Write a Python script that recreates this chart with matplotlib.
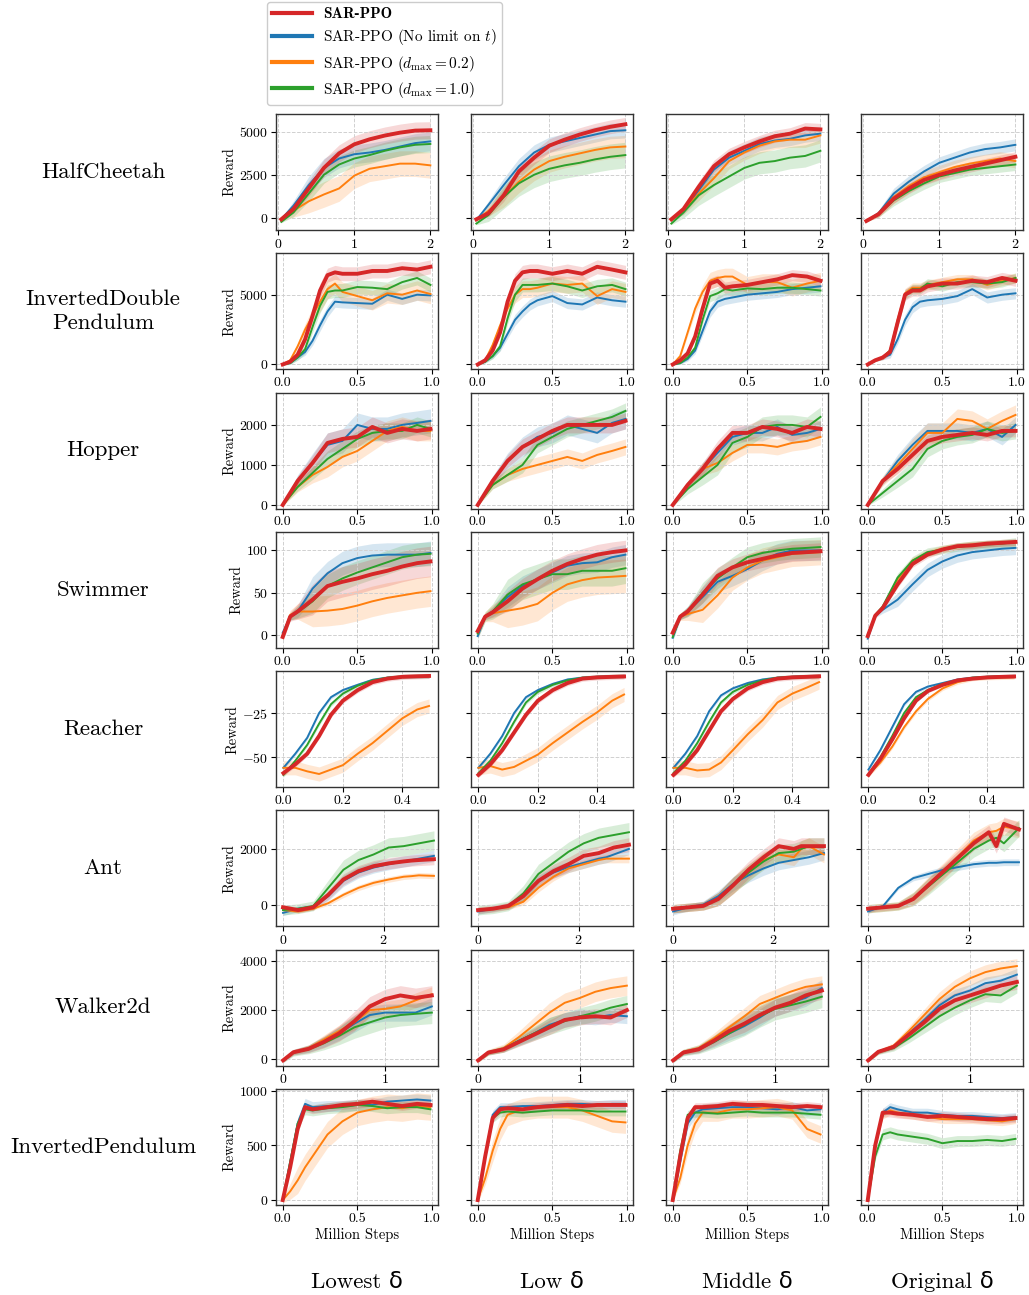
import matplotlib
matplotlib.use("Agg")
import matplotlib.pyplot as plt
import numpy as np
from matplotlib.lines import Line2D

plt.rcParams['font.family'] = ['cmr10', 'DejaVu Serif']
plt.rcParams['mathtext.fontset'] = 'cm'
plt.rcParams['axes.formatter.use_mathtext'] = True

# ---------------------------------------------------------------- labels
ROW_NAMES = ["HalfCheetah", "InvertedDouble\nPendulum", "Hopper", "Swimmer",
             "Reacher", "Ant", "Walker2d", "InvertedPendulum"]
COL_NAMES = ["Lowest δ", "Low δ", "Middle δ", "Original δ"]
SERIES_LABELS = ["SAR-PPO", r"SAR-PPO (No limit on $t$)",
                 r"SAR-PPO ($d_{\max}=0.2$)", r"SAR-PPO ($d_{\max}=1.0$)"]
COLORS = ['#d62728', '#1f77b4', '#ff7f0e', '#2ca02c']

# ---------------------------------------------------------------- HalfCheetah
HC_STEPS = [0.04, 0.2, 0.4, 0.6, 0.8, 1.0, 1.2, 1.4, 1.6, 1.8, 2.0]
HC_RAMP = [0.1, 0.5, 0.9, 1, 1, 1, 1, 1, 1, 1, 1]
HC_SAR = [[-100, 500, 1700, 2900, 3750, 4280, 4570, 4790, 4960, 5080, 5100],
          [-100, 250, 1300, 2700, 3500, 4200, 4550, 4850, 5100, 5300, 5450],
          [-100, 500, 1800, 3000, 3700, 4100, 4450, 4750, 4900, 5200, 5150],
          [-200, 200, 1100, 1700, 2200, 2500, 2750, 2950, 3150, 3350, 3550]]
HC_NOLIM = [[-100, 700, 1900, 2900, 3450, 3700, 3800, 3950, 4150, 4350, 4450],
            [-150, 750, 1900, 3000, 3800, 4250, 4450, 4650, 4850, 5050, 5100],
            [-150, 400, 1600, 2800, 3500, 3900, 4300, 4500, 4600, 4800, 4900],
            [-200, 250, 1400, 2100, 2700, 3200, 3500, 3800, 4000, 4100, 4250]]
HC_D02 = [[-150, 400, 950, 1350, 1700, 2450, 2850, 3000, 3150, 3150, 3050],
          [-150, 400, 1200, 2100, 2800, 3300, 3550, 3750, 3950, 4100, 4150],
          [-150, 400, 1400, 2300, 3300, 3800, 4200, 4450, 4550, 4550, 4800],
          [-200, 200, 1200, 1850, 2350, 2650, 2950, 3150, 3300, 3450, 3300]]
HC_D10 = [[-250, 300, 1400, 2500, 3100, 3450, 3650, 3900, 4100, 4250, 4300],
          [-350, 150, 1200, 2000, 2500, 2850, 3050, 3200, 3400, 3550, 3650],
          [-350, 300, 1300, 1900, 2400, 2900, 3200, 3300, 3500, 3600, 3900],
          [-200, 200, 1000, 1550, 2000, 2400, 2600, 2800, 2900, 3000, 3100]]
HC_SPREAD = [[500, 400, 350, 300], [550, 450, 400, 350],
             [750, 650, 450, 400], [500, 750, 650, 350]]

# ---------------------------------------------------------------- InvertedDoublePendulum
IDP_STEPS = [0, 0.05, 0.1, 0.15, 0.2, 0.25, 0.3, 0.35, 0.4, 0.5, 0.6, 0.7, 0.8, 0.9, 0.99]
IDP_RAMP = [0.1, 0.2, 0.4, 0.6, 0.8, 1, 1, 1, 1, 1, 1, 1, 1, 1, 1]
IDP_SAR = [[0, 200, 700, 1800, 3500, 5300, 6400, 6600, 6500, 6500, 6700, 6700, 6900, 6800, 7000],
           [0, 300, 1000, 2300, 4500, 6000, 6600, 6700, 6700, 6500, 6700, 6500, 7000, 6800, 6600],
           [0, 300, 800, 2000, 4000, 5800, 6000, 5500, 5600, 5700, 5900, 6100, 6400, 6300, 6000],
           [0, 300, 500, 900, 3000, 5000, 5300, 5300, 5600, 5800, 5800, 6000, 5900, 6200, 6000]]
IDP_NOLIM = [[0, 100, 500, 900, 1700, 2800, 3800, 4500, 4450, 4400, 4350, 5000, 4700, 5000, 4950],
             [0, 200, 600, 1200, 2200, 3200, 3800, 4300, 4600, 4900, 4400, 4300, 4800, 4600, 4500],
             [0, 100, 400, 1000, 2400, 3800, 4500, 4700, 4800, 5000, 5100, 5200, 5400, 5500, 5600],
             [0, 300, 500, 700, 1800, 3200, 4100, 4500, 4600, 4700, 4900, 5400, 4800, 5000, 5100]]
IDP_D02 = [[0, 300, 1300, 2500, 3500, 4500, 5400, 5800, 5200, 4900, 4600, 5100, 5000, 5300, 5050],
           [0, 300, 1400, 2800, 4000, 5000, 5400, 5400, 5500, 5800, 5700, 5800, 4900, 5400, 5200],
           [0, 600, 2300, 4000, 5200, 6000, 6200, 6300, 6300, 5700, 5900, 5900, 5500, 5800, 6000],
           [0, 300, 500, 1000, 3200, 5100, 5500, 5500, 5700, 5900, 6100, 6100, 5700, 6000, 6200]]
IDP_D10 = [[0, 100, 500, 1100, 2700, 4200, 5200, 5300, 5300, 5550, 5500, 5400, 5900, 6200, 5700],
           [0, 200, 600, 1300, 3300, 5000, 5700, 5700, 5700, 5800, 5600, 5300, 5600, 5700, 5400],
           [0, 100, 500, 1200, 3200, 4900, 5100, 5400, 5300, 5450, 5400, 5500, 5500, 5400, 5300],
           [0, 300, 500, 1000, 3000, 5000, 5400, 5400, 5800, 5600, 5900, 5900, 5800, 5900, 6200]]
IDP_SPREAD = [[500, 500, 400, 400], [400, 400, 400, 400],
              [700, 600, 600, 350], [500, 500, 400, 350]]

# ---------------------------------------------------------------- Hopper
HOP_STEPS = [0, 0.1, 0.2, 0.3, 0.4, 0.5, 0.6, 0.7, 0.8, 0.9, 0.99]
HOP_RAMP = [0.1, 0.5, 0.8, 1, 1, 1, 1, 1, 1, 1, 1]
HOP_SAR = [[0, 600, 1050, 1550, 1650, 1700, 1950, 1800, 1900, 1850, 1900],
           [0, 600, 1100, 1450, 1650, 1850, 2000, 2000, 2000, 2000, 2100],
           [0, 500, 900, 1400, 1800, 1800, 1950, 1900, 1800, 1950, 1900],
           [0, 600, 900, 1250, 1600, 1700, 1750, 1800, 1750, 1850, 1850]]
HOP_NOLIM = [[0, 600, 1050, 1500, 1600, 2000, 1900, 1900, 2000, 2050, 2100],
             [0, 600, 1100, 1450, 1700, 1800, 2000, 1900, 1800, 2050, 2150],
             [0, 500, 900, 1300, 1700, 1800, 1800, 1950, 1750, 1800, 1900],
             [0, 600, 1100, 1500, 1850, 1850, 1850, 1800, 1900, 1700, 2000]]
HOP_D02 = [[0, 450, 750, 950, 1200, 1350, 1600, 1850, 1950, 1850, 1850],
           [0, 500, 750, 900, 1000, 1100, 1200, 1100, 1250, 1350, 1450],
           [0, 500, 900, 1050, 1300, 1500, 1500, 1450, 1550, 1600, 1700],
           [0, 600, 1000, 1400, 1800, 1800, 2150, 2100, 1900, 2100, 2250]]
HOP_D10 = [[0, 450, 800, 1150, 1400, 1650, 1800, 1850, 1850, 2000, 1900],
           [0, 500, 750, 1000, 1500, 1700, 1900, 2000, 2100, 2200, 2350],
           [0, 400, 700, 1000, 1550, 1700, 1950, 2000, 2000, 1950, 2200],
           [0, 300, 600, 900, 1400, 1600, 1700, 1750, 1900, 1800, 1850]]
HOP_SPREAD = [[250, 200, 200, 150], [300, 250, 200, 200],
              [250, 200, 200, 250], [200, 200, 250, 200]]

# ---------------------------------------------------------------- Swimmer
SW_STEPS = [0, 0.05, 0.1, 0.2, 0.3, 0.4, 0.5, 0.6, 0.7, 0.8, 0.9, 0.99]
SW_RAMP = [0.3, 0.3, 0.5, 1, 1, 1, 1, 1, 1, 1, 1, 1]
SW_SAR = [[-2, 22, 28, 42, 58, 63, 67, 72, 76, 81, 85, 87],
          [5, 22, 27, 40, 55, 66, 76, 84, 90, 95, 98, 100],
          [3, 22, 28, 48, 70, 80, 86, 90, 94, 97, 98, 99],
          [-1, 23, 32, 60, 84, 95, 101, 105, 106, 108, 109, 110]]
SW_NOLIM = [[3, 22, 28, 55, 73, 85, 91, 94, 95, 95, 95, 97],
            [-1, 22, 28, 45, 58, 66, 74, 82, 85, 86, 92, 95],
            [-3, 22, 28, 45, 63, 70, 78, 88, 96, 100, 100, 100],
            [-4, 23, 30, 42, 60, 77, 87, 94, 98, 100, 102, 103]]
SW_D02 = [[-1, 24, 28, 28, 29, 31, 35, 40, 44, 47, 50, 52],
          [3, 22, 26, 29, 32, 37, 50, 60, 65, 68, 69, 70],
          [3, 22, 25, 30, 47, 68, 80, 88, 92, 96, 97, 98],
          [0, 23, 33, 66, 88, 97, 102, 105, 107, 108, 109, 109]]
SW_D10 = [[0, 22, 27, 40, 58, 67, 74, 80, 86, 92, 95, 96],
          [2, 22, 28, 48, 60, 66, 72, 72, 76, 76, 76, 79],
          [-2, 22, 28, 50, 67, 80, 92, 97, 100, 102, 103, 104],
          [0, 24, 34, 68, 88, 98, 101, 104, 106, 107, 108, 110]]
SW_SPREAD = [[18, 12, 10, 4], [14, 12, 12, 8], [18, 20, 15, 4], [14, 18, 12, 5]]

# ---------------------------------------------------------------- Reacher
RE_STEPS = [0, 0.04, 0.08, 0.12, 0.16, 0.2, 0.25, 0.3, 0.35, 0.4, 0.45, 0.49]
RE_RAMP = [1, 1, 1, 1, 1, 1, 1, 1, 1, 1, 1, 1]
RE_SAR = [[-59, -54, -48, -38, -26, -18, -12, -7.5, -5.5, -4.5, -4.2, -4],
          [-60, -54, -46, -36, -26, -18, -12, -8, -5.5, -4.8, -4.5, -4.3],
          [-60, -54, -46, -35, -24, -17, -11, -7.5, -5.5, -4.8, -4.5, -4.2],
          [-60, -51, -40, -28, -18, -12.5, -9, -6.5, -5.5, -4.8, -4.5, -4.3]]
RE_NOLIM = [[-56, -48, -39, -25, -16, -12, -9, -6.2, -5, -4.5, -4.3, -4.2],
            [-56, -48, -38, -25, -16, -12, -8.5, -6, -5, -4.5, -4.2, -4],
            [-56, -48, -38, -24, -15, -11, -8, -6, -5, -4.5, -4.2, -4],
            [-57, -46, -33, -20, -13, -10, -8, -6, -5, -4.5, -4.2, -4]]
RE_D02 = [[-56, -56, -58, -59.5, -57, -54.5, -48, -42, -35, -28, -23, -21],
          [-56, -55, -57, -55.5, -52, -48.5, -42, -36, -30, -24.5, -18, -14.5],
          [-56, -56, -57.5, -57, -53, -46, -37, -29, -19, -14, -10.5, -7.5],
          [-60, -53, -44, -33, -24, -17, -11, -7.5, -5.5, -5, -4.8, -4.7]]
RE_D10 = [[-60, -52, -43, -31, -20, -14, -9.5, -6.5, -5, -4.3, -4, -4],
          [-59, -52, -42, -30, -19, -13, -9, -6.5, -5, -4.5, -4.2, -4],
          [-59, -52, -42, -30, -19, -13, -9, -6.5, -5, -4.5, -4.2, -4],
          [-60, -50, -38, -25, -16, -12, -8.5, -6.5, -5, -4.5, -4.2, -4]]
RE_SPREAD = [[1.5, 1.5, 1.5, 1], [1, 1, 1, 1], [4, 4, 4, 1.2], [1.2, 1.2, 1.2, 1]]

# ---------------------------------------------------------------- Ant
ANT_STEPS = [0, 0.3, 0.6, 0.9, 1.2, 1.5, 1.8, 2.1, 2.4, 2.55, 2.7, 3.0]
ANT_RAMP = [0.5, 0.5, 0.5, 0.8, 1, 1, 1, 1, 1, 1, 1, 1]
ANT_SAR = [[-100, -200, -100, 350, 900, 1200, 1380, 1480, 1550, 1580, 1600, 1630],
           [-200, -150, -50, 300, 850, 1200, 1450, 1750, 1850, 1950, 2050, 2150],
           [-150, -100, -50, 200, 700, 1250, 1700, 2100, 2000, 2100, 2100, 2100],
           [-150, -100, -50, 200, 700, 1200, 1700, 2200, 2600, 2100, 2900, 2700]]
ANT_NOLIM = [[-300, -150, -80, 300, 850, 1150, 1330, 1450, 1550, 1600, 1650, 1750],
             [-250, -150, -50, 300, 850, 1150, 1350, 1500, 1650, 1700, 1800, 2000],
             [-250, -100, 0, 300, 750, 1050, 1300, 1500, 1600, 1650, 1700, 1850],
             [-250, -50, 600, 950, 1100, 1250, 1350, 1450, 1500, 1500, 1520, 1520]]
ANT_D02 = [[-200, -250, -150, 50, 350, 600, 780, 900, 1000, 1020, 1050, 1030],
           [-200, -150, -100, 100, 600, 1000, 1300, 1450, 1600, 1650, 1650, 1650],
           [-150, -100, -50, 200, 700, 1150, 1600, 1800, 1700, 2000, 2100, 1800],
           [-150, -100, -50, 200, 700, 1200, 1750, 2300, 2600, 2650, 2800, 2700]]
ANT_D10 = [[-200, -150, -50, 600, 1250, 1600, 1800, 2050, 2100, 2150, 2200, 2300],
           [-200, -150, -50, 400, 1100, 1500, 1900, 2200, 2400, 2450, 2500, 2600],
           [-150, -100, -50, 200, 700, 1150, 1550, 1850, 1900, 2000, 2100, 2100],
           [-150, -100, -50, 200, 650, 1100, 1550, 2000, 2300, 2400, 2200, 2750]]
ANT_SPREAD = [[200, 250, 300, 250], [200, 200, 250, 120],
              [100, 150, 300, 300], [350, 350, 300, 300]]

# ---------------------------------------------------------------- Walker2d
WK_STEPS = [0, 0.1, 0.25, 0.4, 0.55, 0.7, 0.85, 1.0, 1.15, 1.3, 1.46]
WK_RAMP = [0.2, 0.3, 0.4, 0.6, 0.8, 1, 1, 1, 1, 1, 1]
WK_SAR = [[-50, 280, 420, 700, 1050, 1550, 2150, 2450, 2600, 2500, 2600],
          [-50, 270, 400, 700, 1000, 1300, 1600, 1700, 1750, 1700, 2000],
          [-50, 270, 400, 750, 1150, 1450, 1800, 2100, 2300, 2600, 2800],
          [-50, 300, 500, 1000, 1500, 2050, 2400, 2600, 2800, 3000, 3150]]
WK_NOLIM = [[-50, 280, 420, 700, 1050, 1450, 1800, 1900, 1900, 1900, 2150],
            [-50, 270, 420, 750, 1050, 1400, 1600, 1750, 1700, 1800, 1750],
            [-50, 270, 400, 700, 1050, 1350, 1700, 2100, 2300, 2500, 2900],
            [-50, 300, 500, 1050, 1600, 2200, 2600, 2800, 3100, 3200, 3450]]
WK_D02 = [[-50, 280, 450, 800, 1150, 1500, 2000, 2050, 2150, 2400, 2650],
          [-50, 280, 450, 900, 1400, 1900, 2300, 2500, 2750, 2900, 3000],
          [-50, 300, 450, 850, 1300, 1750, 2250, 2500, 2750, 2950, 3050],
          [-50, 300, 550, 1150, 1800, 2450, 2950, 3300, 3550, 3700, 3800]]
WK_D10 = [[-50, 260, 400, 650, 950, 1300, 1500, 1700, 1800, 1850, 1900],
          [-50, 270, 420, 750, 1050, 1350, 1550, 1750, 1900, 2100, 2250],
          [-50, 270, 400, 700, 1050, 1400, 1750, 2050, 2200, 2350, 2550],
          [-50, 280, 450, 850, 1300, 1750, 2100, 2400, 2650, 2600, 3000]]
WK_SPREAD = [[400, 300, 350, 300], [350, 300, 350, 250],
             [300, 400, 350, 300], [450, 350, 450, 300]]

# ---------------------------------------------------------------- InvertedPendulum
IP_STEPS = [0, 0.05, 0.1, 0.15, 0.2, 0.3, 0.4, 0.5, 0.6, 0.7, 0.8, 0.9, 0.99]
IP_RAMP = [0.2, 0.6, 1, 1, 1, 1, 1, 1, 1, 1, 1, 1, 1]
IP_SAR = [[0, 300, 650, 850, 830, 850, 870, 880, 900, 880, 860, 880, 870],
          [0, 400, 750, 830, 840, 830, 850, 860, 870, 860, 870, 870, 870],
          [0, 400, 750, 850, 850, 860, 880, 870, 870, 860, 850, 860, 850],
          [0, 500, 800, 800, 790, 780, 760, 770, 760, 750, 740, 740, 750]]
IP_NOLIM = [[0, 350, 700, 880, 850, 860, 860, 870, 870, 900, 910, 920, 910],
            [0, 400, 780, 850, 850, 860, 860, 870, 880, 880, 870, 880, 880],
            [0, 350, 700, 800, 830, 840, 850, 850, 840, 830, 850, 820, 830],
            [0, 500, 800, 850, 830, 800, 800, 780, 770, 770, 760, 750, 760]]
IP_D02 = [[0, 80, 180, 300, 400, 600, 720, 800, 830, 850, 840, 860, 850],
          [0, 200, 450, 650, 780, 830, 850, 850, 850, 820, 770, 720, 710],
          [0, 200, 500, 700, 800, 800, 830, 830, 840, 850, 820, 650, 600],
          [0, 500, 780, 820, 800, 780, 760, 740, 740, 740, 730, 720, 740]]
IP_D10 = [[0, 350, 700, 830, 820, 840, 850, 870, 860, 840, 850, 850, 830],
          [0, 400, 750, 800, 810, 800, 810, 820, 820, 820, 810, 810, 810],
          [0, 450, 780, 800, 800, 790, 800, 810, 800, 800, 800, 790, 780],
          [0, 400, 600, 620, 600, 580, 560, 520, 540, 540, 550, 540, 560]]
IP_SPREAD = [[40, 40, 40, 40], [50, 40, 50, 40], [120, 100, 80, 40], [50, 40, 40, 50]]

# ---------------------------------------------------------------- axes setup per row
ROWS = [
    (HC_STEPS, HC_RAMP, [HC_SAR, HC_NOLIM, HC_D02, HC_D10], HC_SPREAD,
     [0, 2500, 5000], [0, 1, 2], (-0.03, 2.1), (-740, 6050)),
    (IDP_STEPS, IDP_RAMP, [IDP_SAR, IDP_NOLIM, IDP_D02, IDP_D10], IDP_SPREAD,
     [0, 5000], [0.0, 0.5, 1.0], (-0.045, 1.04), (-360, 7970)),
    (HOP_STEPS, HOP_RAMP, [HOP_SAR, HOP_NOLIM, HOP_D02, HOP_D10], HOP_SPREAD,
     [0, 1000, 2000], [0.0, 0.5, 1.0], (-0.045, 1.04), (-95, 2810)),
    (SW_STEPS, SW_RAMP, [SW_SAR, SW_NOLIM, SW_D02, SW_D10], SW_SPREAD,
     [0, 50, 100], [0.0, 0.5, 1.0], (-0.045, 1.04), (-15, 122)),
    (RE_STEPS, RE_RAMP, [RE_SAR, RE_NOLIM, RE_D02, RE_D10], RE_SPREAD,
     [-50, -25], [0.0, 0.2, 0.4], (-0.025, 0.52), (-67, -1.2)),
    (ANT_STEPS, ANT_RAMP, [ANT_SAR, ANT_NOLIM, ANT_D02, ANT_D10], ANT_SPREAD,
     [0, 2000], [0, 2], (-0.14, 3.08), (-790, 3390)),
    (WK_STEPS, WK_RAMP, [WK_SAR, WK_NOLIM, WK_D02, WK_D10], WK_SPREAD,
     [0, 2000, 4000], [0, 1], (-0.07, 1.52), (-270, 4475)),
    (IP_STEPS, IP_RAMP, [IP_SAR, IP_NOLIM, IP_D02, IP_D10], IP_SPREAD,
     [0, 500, 1000], [0.0, 0.5, 1.0], (-0.045, 1.04), (-45, 1018)),
]

W, H = 1029, 1295
fig, axes = plt.subplots(8, 4, figsize=(W / 100, H / 100), dpi=100, sharey='row')
fig.subplots_adjust(left=276 / W, right=1023 / W, top=1 - 114 / H,
                    bottom=1 - 1205 / H, wspace=0.204, hspace=0.198)

LINE_W = [2.8, 1.4, 1.4, 1.4]
DRAW_ORDER = [1, 2, 3, 0]

for r, (steps, ramp, series, spread, yt, xt, xl, yl) in enumerate(ROWS):
    x = np.array(steps)
    rp = np.array(ramp)
    for c in range(4):
        ax = axes[r, c]
        for k in DRAW_ORDER:
            m = np.array(series[k][c], dtype=float)
            s = spread[k][c] * rp
            ax.fill_between(x, m - s, m + s, color=COLORS[k], alpha=0.18, lw=0)
        for k in DRAW_ORDER:
            ax.plot(x, series[k][c], color=COLORS[k], lw=LINE_W[k])
        ax.set_xlim(*xl)
        ax.set_ylim(*yl)
        ax.set_xticks(xt)
        ax.set_yticks(yt)
        if isinstance(xt[1], float):
            ax.set_xticklabels([f"{v:.1f}" for v in xt])
        ax.grid(True, ls='--', color='#d0d0d0', lw=0.7)
        ax.tick_params(labelsize=10, length=3.5, width=0.8, pad=2)
        for sp in ax.spines.values():
            sp.set_color('#333333')
            sp.set_linewidth(1.0)
        if c == 0:
            ax.set_ylabel("Reward", fontsize=10.5, labelpad=2)
        if r == 7:
            ax.set_xlabel("Million Steps", fontsize=10.5, labelpad=2)
    pos = axes[r, 0].get_position()
    fig.text(103 / W, (pos.y0 + pos.y1) / 2, ROW_NAMES[r], ha='center',
             va='center', fontsize=16.5, linespacing=1.3)

for c in range(4):
    pos = axes[7, c].get_position()
    fig.text((pos.x0 + pos.x1) / 2, 1 - 1282 / H, COL_NAMES[c], ha='center',
             va='center', fontsize=16.5, family=['cmr10', 'DejaVu Sans'])

handles = [Line2D([], [], color=COLORS[k], lw=3) for k in range(4)]
leg = fig.legend(handles, SERIES_LABELS, loc='upper left',
                 bbox_to_anchor=(267 / W, 1 - 2 / H), borderaxespad=0.0,
                 fontsize=11, handlelength=2.6, handletextpad=0.7,
                 labelspacing=0.4, borderpad=0.35, framealpha=1.0,
                 edgecolor='#cccccc')
leg.get_texts()[0].set_family('cmb10')

fig.savefig("out.png", dpi=100)
